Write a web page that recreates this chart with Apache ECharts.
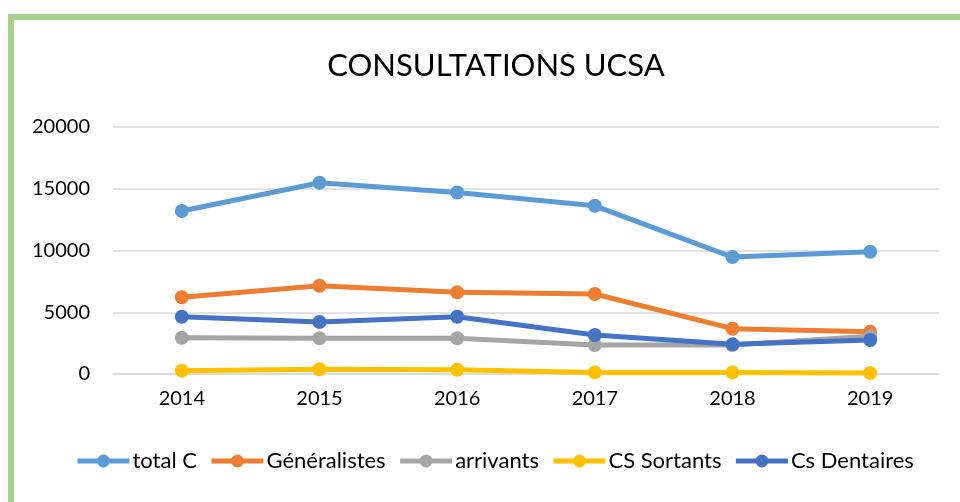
<!DOCTYPE html>
<html>
<head>
<meta charset="utf-8">
<script src="https://cdn.jsdelivr.net/npm/echarts@6/dist/echarts.min.js"></script>
<style>
  html, body { margin: 0; padding: 0; background: #fff; overflow: hidden; width: 960px; height: 502px; }
  #frame { position: absolute; left: 8px; top: 14px; width: 1000px; height: 600px; border-left: 6px solid #A9D18E; border-top: 6px solid #A9D18E; }
  #chart { position: absolute; left: 0; top: 0; width: 960px; height: 502px; }
</style>
</head>
<body>
<div id="frame"></div>
<div id="chart"></div>
<script>
const years = ['2014', '2015', '2016', '2017', '2018', '2019'];
const totalC = [13200, 15480, 14700, 13620, 9470, 9900];
const generalistes = [6210, 7150, 6610, 6480, 3670, 3430];
const arrivants = [2940, 2900, 2900, 2350, 2350, 3050];
const csSortants = [270, 380, 350, 130, 130, 80];
const csDentaires = [4640, 4210, 4640, 3160, 2400, 2750];
const yTicks = [0, 5000, 10000, 15000, 20000];

const font = 'Lato';
function mk(name, data, color) {
  return {
    name: name, type: 'line', data: data,
    symbol: 'circle', symbolSize: 14,
    lineStyle: { width: 5, color: color },
    itemStyle: { color: color },
    emphasis: { disabled: true }
  };
}
const chart = echarts.init(document.getElementById('chart'));
chart.setOption({
  animation: false,
  backgroundColor: 'transparent',
  title: {
    text: 'CONSULTATIONS UCSA', left: 491, top: 45, textAlign: 'center',
    textStyle: { fontFamily: font, fontSize: 31, fontWeight: 'normal', color: '#000' }
  },
  legend: {
    bottom: 25, left: 70, itemWidth: 52, itemHeight: 16, itemGap: 12,
    lineStyle: { width: 5 },
    textStyle: { fontFamily: font, fontSize: 22, color: '#000', padding: [0, 0, 0, -2] },
    data: ['total C', 'Généralistes', 'arrivants', 'CS Sortants', 'Cs Dentaires']
  },
  grid: { left: 113, right: 21, top: 127, bottom: 128 },
  xAxis: {
    type: 'category', data: years, boundaryGap: true,
    axisLine: { lineStyle: { color: '#D9D9D9', width: 1.5 } },
    axisTick: { show: false },
    axisLabel: { fontFamily: font, fontSize: 20, color: '#000', margin: 15 }
  },
  yAxis: {
    type: 'value', min: yTicks[0], max: yTicks[yTicks.length - 1], interval: 5000,
    axisLine: { show: false }, axisTick: { show: false },
    splitLine: { lineStyle: { color: '#D9D9D9', width: 1.5 } },
    axisLabel: { fontFamily: font, fontSize: 20, color: '#000', margin: 23, formatter: function (v) { return String(v); } }
  },
  series: [
    mk('total C', totalC, '#5B9BD5'),
    mk('Généralistes', generalistes, '#ED7D31'),
    mk('arrivants', arrivants, '#A5A5A5'),
    mk('CS Sortants', csSortants, '#FFC000'),
    mk('Cs Dentaires', csDentaires, '#4472C4')
  ]
});
</script>
</body>
</html>
